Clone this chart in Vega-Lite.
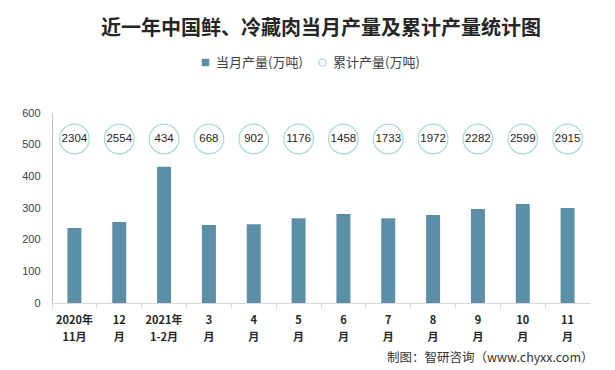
{
  "$schema": "https://vega.github.io/schema/vega-lite/v6.json",
  "width": 538,
  "height": 190,
  "autosize": "none",
  "padding": {"left": 52, "top": 113, "right": 25, "bottom": 67},
  "background": "white",
  "title": {
    "text": "近一年中国鲜、冷藏肉当月产量及累计产量统计图",
    "font": "Noto Sans CJK SC",
    "fontSize": 20,
    "fontWeight": "bold",
    "color": "#262626",
    "anchor": "middle",
    "offset": 17
  },
  "config": {
    "view": {"stroke": null},
    "font": "Noto Sans CJK SC",
    "axisY": {
      "labelOverlap": false,
      "grid": false,
      "ticks": false,
      "labelPadding": 12,
      "labelFont": "Liberation Sans",
      "labelFontSize": 11,
      "labelColor": "#404040",
      "domainColor": "#bfbfbf"
    }
  },
  "data": {
    "values": [
      {"month": "2020年|11月", "monthly": 237, "cumulative": 2304},
      {"month": "12|月", "monthly": 256, "cumulative": 2554},
      {"month": "2021年|1-2月", "monthly": 430, "cumulative": 434},
      {"month": "3|月", "monthly": 246, "cumulative": 668},
      {"month": "4|月", "monthly": 249, "cumulative": 902},
      {"month": "5|月", "monthly": 268, "cumulative": 1176},
      {"month": "6|月", "monthly": 281, "cumulative": 1458},
      {"month": "7|月", "monthly": 268, "cumulative": 1733},
      {"month": "8|月", "monthly": 278, "cumulative": 1972},
      {"month": "9|月", "monthly": 297, "cumulative": 2282},
      {"month": "10|月", "monthly": 313, "cumulative": 2599},
      {"month": "11|月", "monthly": 300, "cumulative": 2915}
    ]
  },
  "encoding": {
    "x": {
      "field": "month",
      "type": "nominal",
      "sort": null,
      "scale": {"paddingInner": 0, "paddingOuter": 0},
      "axis": {
        "title": "制图：智研咨询（www.chyxx.com）",
        "titleFont": "Noto Sans CJK SC",
        "titleFontSize": 12.5,
        "titleFontWeight": "normal",
        "titleColor": "#333333",
        "titleAlign": "right",
        "titleAnchor": "end",
        "titleX": 541,
        "titleY": 54,
        "titleBaseline": "middle",
        "labelAngle": 0,
        "labelExpr": "split(datum.label, '|')",
        "labelFontWeight": "bold",
        "labelFontSize": 11,
        "labelColor": "#262626",
        "labelLineHeight": 17,
        "labelPadding": 6,
        "domainColor": "#d9d9d9",
        "tickColor": "#d9d9d9",
        "tickSize": 5,
        "bandPosition": 0,
        "grid": false
      }
    }
  },
  "layer": [
    {
      "mark": {"type": "bar", "size": 14},
      "encoding": {
        "y": {
          "field": "monthly",
          "type": "quantitative",
          "scale": {"domain": [0, 600], "nice": false},
          "axis": {"title": null, "values": [0, 100, 200, 300, 400, 500, 600]}
        },
        "fill": {
          "datum": "当月产量(万吨)",
          "scale": {"range": ["#5b8fa8"]},
          "legend": {
            "orient": "none",
            "legendX": 147,
            "legendY": -57,
            "title": null,
            "labelFontSize": 13,
            "labelColor": "#404040",
            "labelOffset": 4,
            "symbolSize": 55,
            "symbolType": "square"
          }
        }
      }
    },
    {
      "mark": {"type": "point", "filled": false, "size": 880, "strokeWidth": 1.2, "shape": "circle"},
      "encoding": {
        "y": {"datum": 518, "type": "quantitative", "axis": {"title": null, "values": [0, 100, 200, 300, 400, 500, 600]}},
        "stroke": {
          "datum": "累计产量(万吨)",
          "scale": {"range": ["#7fcdc7"]},
          "legend": {
            "orient": "none",
            "legendX": 264,
            "legendY": -57,
            "title": null,
            "labelFontSize": 13,
            "labelColor": "#404040",
            "labelOffset": 4,
            "symbolSize": 55,
            "symbolType": "circle",
            "symbolStrokeWidth": 1.2
          }
        }
      }
    },
    {
      "mark": {"type": "text", "fontSize": 11.5, "color": "#262626", "font": "Liberation Sans"},
      "encoding": {
        "y": {"datum": 518, "type": "quantitative", "axis": {"title": null, "values": [0, 100, 200, 300, 400, 500, 600]}},
        "text": {"field": "cumulative", "type": "quantitative", "format": "d"}
      }
    }
  ]
}
